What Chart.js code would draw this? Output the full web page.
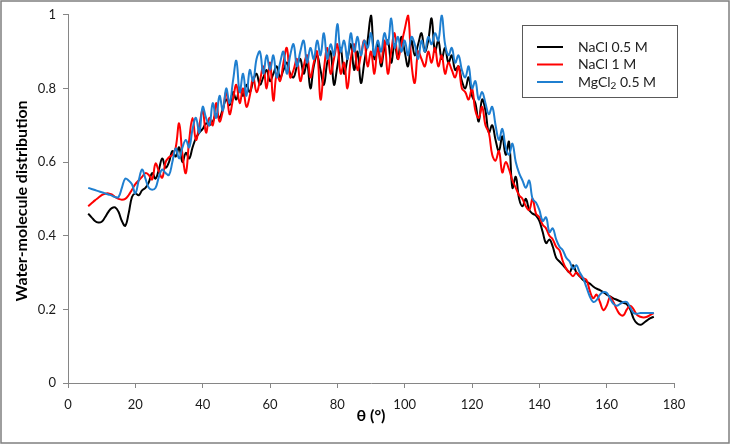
<!DOCTYPE html>
<html>
<head>
<meta charset="utf-8">
<script src="https://cdn.jsdelivr.net/npm/chart.js@4/dist/chart.umd.min.js"></script>
<style>
  html, body { margin: 0; padding: 0; background: #fff; }
  #wrap { width: 730px; height: 444px; }
</style>
</head>
<body>
<div id="wrap"><canvas id="waterChart" width="730" height="444"></canvas></div>
<script>
/* ===== datos ===== */
// ángulos θ (°), paso de 1° desde 6 hasta 174
const angles = Array.from({ length: 169 }, (_, i) => 6 + i);

const seriesNames = ['NaCl 0.5 M', 'NaCl 1 M', 'MgCl2 0.5 M'];
const seriesColors = ['#000000', '#ff0000', '#1f7fd0'];

const xTicks = [0, 20, 40, 60, 80, 100, 120, 140, 160, 180];
const yTicks = [0, 0.2, 0.4, 0.6, 0.8, 1];

// NaCl 0.5 M
const nacl05 = [
  0.46, 0.45, 0.44, 0.436, 0.438, 0.45, 0.465, 0.475, 0.477, 0.465,
  0.44, 0.427, 0.46, 0.505, 0.515, 0.51, 0.523, 0.53, 0.545, 0.57,
  0.555, 0.58, 0.61, 0.585, 0.6, 0.63, 0.615, 0.64, 0.6, 0.625,
  0.61, 0.64, 0.665, 0.68, 0.69, 0.705, 0.7, 0.71, 0.73, 0.72,
  0.745, 0.77, 0.755, 0.79, 0.77, 0.8, 0.78, 0.81, 0.79, 0.82,
  0.84, 0.81, 0.83, 0.85, 0.82, 0.84, 0.86, 0.83, 0.85, 0.87,
  0.84, 0.83, 0.86, 0.88, 0.84, 0.87, 0.80, 0.86, 0.89, 0.85,
  0.81, 0.87, 0.9, 0.81, 0.86, 0.91, 0.84, 0.88, 0.92, 0.85,
  0.9, 0.815, 0.87, 0.93, 1.0, 0.88, 0.92, 0.86, 0.91, 0.93,
  0.87, 0.92, 0.88, 0.94, 0.9, 0.86, 0.93, 0.89, 0.92, 0.95,
  0.9, 0.93, 0.99, 0.9, 0.93, 0.88, 0.91, 0.87, 0.89, 0.85,
  0.86, 0.82, 0.8, 0.83, 0.78, 0.76, 0.71, 0.77, 0.74, 0.68,
  0.7, 0.66, 0.63, 0.67, 0.62, 0.655, 0.53, 0.56, 0.5, 0.48,
  0.5, 0.47, 0.46, 0.455, 0.44, 0.41, 0.38, 0.39, 0.37, 0.34,
  0.33, 0.32, 0.31, 0.3, 0.32, 0.3, 0.29, 0.28, 0.275, 0.27,
  0.262, 0.256, 0.252, 0.247, 0.24, 0.235, 0.23, 0.226, 0.222, 0.218,
  0.214, 0.2, 0.175, 0.162, 0.158, 0.163, 0.17, 0.176, 0.18
];

// NaCl 1 M
const nacl1 = [
  0.48, 0.488, 0.496, 0.503, 0.51, 0.514, 0.515, 0.512, 0.505, 0.5,
  0.498, 0.5, 0.51, 0.525, 0.54, 0.55, 0.56, 0.57, 0.565, 0.553,
  0.596, 0.575, 0.558, 0.6, 0.613, 0.62, 0.64, 0.705, 0.62, 0.57,
  0.66, 0.72, 0.66, 0.7, 0.74, 0.68, 0.72, 0.7, 0.76, 0.71,
  0.74, 0.79, 0.73, 0.77, 0.81, 0.76, 0.8, 0.75, 0.78, 0.83,
  0.79, 0.82, 0.86, 0.8, 0.87, 0.767, 0.84, 0.82, 0.87, 0.91,
  0.83, 0.85, 0.88, 0.82, 0.86, 0.89, 0.83, 0.87, 0.9, 0.77,
  0.85, 0.91, 0.84, 0.88, 0.92, 0.84, 0.87, 0.8, 0.88, 0.92,
  0.85, 0.89, 0.93, 0.86, 0.9, 0.84, 0.91, 0.87, 0.93, 0.84,
  0.9, 0.95, 0.88, 0.92, 0.96, 1.0, 0.87, 0.815, 0.9, 0.88,
  0.86, 0.9, 0.87, 0.91, 0.86, 0.89, 0.84, 0.87, 0.85, 0.83,
  0.86, 0.8, 0.79, 0.77, 0.8, 0.74, 0.72, 0.75, 0.7, 0.68,
  0.62, 0.604, 0.63, 0.572, 0.6, 0.58, 0.55, 0.53, 0.51, 0.5,
  0.48, 0.47, 0.5, 0.46, 0.45, 0.43, 0.42, 0.4, 0.39, 0.37,
  0.36, 0.33, 0.31, 0.3, 0.29, 0.3, 0.29, 0.285, 0.28, 0.25,
  0.23, 0.24, 0.22, 0.198, 0.21, 0.233, 0.22, 0.2, 0.186, 0.184,
  0.2, 0.21, 0.2, 0.185, 0.18, 0.178, 0.18, 0.185, 0.19
];

// MgCl2 0.5 M
const mgcl05 = [
  0.53, 0.527, 0.524, 0.521, 0.518, 0.515, 0.512, 0.509, 0.505, 0.505,
  0.53, 0.555, 0.55, 0.54, 0.515, 0.55, 0.58, 0.555, 0.53, 0.525,
  0.53, 0.56, 0.58, 0.57, 0.565, 0.6, 0.637, 0.61, 0.64, 0.66,
  0.64, 0.69, 0.72, 0.68, 0.75, 0.72, 0.7, 0.76, 0.72, 0.78,
  0.74, 0.8, 0.76, 0.82, 0.875, 0.79, 0.84, 0.78, 0.85, 0.82,
  0.88, 0.9, 0.84, 0.89, 0.85, 0.89, 0.83, 0.87, 0.9, 0.84,
  0.89, 0.92, 0.86, 0.9, 0.93, 0.87, 0.91, 0.88, 0.93, 0.89,
  0.95, 0.88, 0.92, 0.89, 0.975, 0.9, 0.93, 0.88, 0.95, 0.9,
  0.94, 0.89, 0.93, 0.91, 0.95, 0.89, 0.93, 0.9, 0.95, 0.92,
  0.99, 0.91, 0.94, 0.9, 0.93, 0.89, 0.94, 0.92, 0.88, 0.93,
  0.9, 0.94, 0.92, 0.95, 0.93, 1.0, 0.92, 0.89, 0.91, 0.87,
  0.89, 0.85, 0.83, 0.86, 0.8, 0.82, 0.77, 0.79, 0.76, 0.73,
  0.75, 0.7, 0.66, 0.69, 0.64, 0.62, 0.65, 0.6, 0.57, 0.55,
  0.53, 0.55, 0.5, 0.49, 0.47, 0.44, 0.45, 0.41, 0.42, 0.39,
  0.37, 0.36, 0.34, 0.33, 0.31, 0.32, 0.3, 0.285, 0.26, 0.235,
  0.22, 0.225, 0.24, 0.247, 0.245, 0.23, 0.215, 0.21, 0.215, 0.22,
  0.22, 0.205, 0.19, 0.188, 0.19, 0.19, 0.19, 0.19, 0.19
];

const seriesValues = [nacl05, nacl1, mgcl05];

// Marco exterior y fondo
const framePlugin = {
  id: 'frame',
  beforeDraw(chart) {
    const ctx = chart.ctx;
    ctx.save();
    ctx.fillStyle = '#ffffff';
    ctx.fillRect(0, 0, chart.width, chart.height);
    ctx.restore();
  },
  afterDraw(chart) {
    const ctx = chart.ctx;
    ctx.save();
    ctx.strokeStyle = '#7f7f7f';
    ctx.lineWidth = 1.5;
    ctx.strokeRect(1, 1, chart.width - 2, chart.height - 2);
    ctx.restore();
  }
};

// Títulos de ejes
const axisTitlePlugin = {
  id: 'axisTitles',
  afterDraw(chart) {
    const ctx = chart.ctx;
    const area = chart.chartArea;
    ctx.save();
    ctx.fillStyle = '#000';
    ctx.font = 'bold 16px Lato, "Open Sans", sans-serif';
    ctx.textAlign = 'center';
    ctx.textBaseline = 'middle';
    ctx.fillText('θ (°)', (area.left + area.right) / 2, 416);
    ctx.translate(22, (area.top + area.bottom) / 2 + 2);
    ctx.rotate(-Math.PI / 2);
    ctx.fillText('Water-molecule distribution', 0, 0);
    ctx.restore();
  }
};

// Leyenda en recuadro (dentro del área)
const legendBoxPlugin = {
  id: 'legendBox',
  afterDraw(chart) {
    const ctx = chart.ctx;
    const box = { x: 522.5, y: 25.5, w: 155, h: 72 };
    ctx.save();
    ctx.fillStyle = '#fff';
    ctx.fillRect(box.x, box.y, box.w, box.h);
    ctx.strokeStyle = '#595959';
    ctx.lineWidth = 1;
    ctx.strokeRect(box.x, box.y, box.w, box.h);
    const rows = [47, 64.5, 82];
    ctx.textBaseline = 'middle';
    ctx.font = '14px Lato, "Open Sans", sans-serif';
    seriesNames.forEach((name, i) => {
      const y = rows[i];
      ctx.strokeStyle = seriesColors[i];
      ctx.lineWidth = 2;
      ctx.beginPath();
      ctx.moveTo(537, y);
      ctx.lineTo(563, y);
      ctx.stroke();
      ctx.fillStyle = '#222';
      let x = 578;
      if (name.startsWith('MgCl2')) {
        ctx.fillText('MgCl', x, y);
        x += ctx.measureText('MgCl').width;
        ctx.font = '10px Lato, "Open Sans", sans-serif';
        ctx.fillText('2', x, y + 4);
        x += ctx.measureText('2').width;
        ctx.font = '14px Lato, "Open Sans", sans-serif';
        ctx.fillText(name.slice(5), x, y);
      } else {
        ctx.fillText(name, x, y);
      }
    });
    ctx.restore();
  }
};

const datasets = seriesValues.map((vals, i) => ({
  label: seriesNames[i],
  data: angles.map((a, j) => ({ x: a, y: vals[j] })),
  borderColor: seriesColors[i],
  borderWidth: 2,
  pointRadius: 0,
  tension: 0.4,
  fill: false,
  order: 3 - i
}));

new Chart(document.getElementById('waterChart'), {
  type: 'line',
  data: { datasets: datasets },
  options: {
    responsive: false,
    animation: false,
    layout: { padding: { left: 0, right: 56, top: 14, bottom: 0 } },
    plugins: {
      legend: { display: false },
      tooltip: { enabled: false }
    },
    scales: {
      x: {
        type: 'linear',
        min: 0,
        max: 180,
        afterBuildTicks(scale) { scale.ticks = xTicks.map(v => ({ value: v })); },
        afterFit(scale) { scale.height = 61; },
        border: { color: '#868686', width: 1 },
        grid: { drawOnChartArea: false, drawTicks: true, tickLength: 5, color: '#868686' },
        ticks: { color: '#1a1a1a', font: { family: 'Lato', size: 13 }, padding: 9, maxRotation: 0 }
      },
      y: {
        min: 0,
        max: 1,
        afterBuildTicks(scale) { scale.ticks = yTicks.map(v => ({ value: v })); },
        afterFit(scale) { scale.width = 68; },
        border: { color: '#868686', width: 1 },
        grid: { drawOnChartArea: false, drawTicks: true, tickLength: 5, color: '#868686' },
        ticks: {
          color: '#1a1a1a',
          font: { family: 'Lato', size: 13 },
          padding: 7,
          callback: v => String(Math.round(v * 10) / 10)
        }
      }
    }
  },
  plugins: [framePlugin, axisTitlePlugin, legendBoxPlugin]
});
</script>
</body>
</html>
